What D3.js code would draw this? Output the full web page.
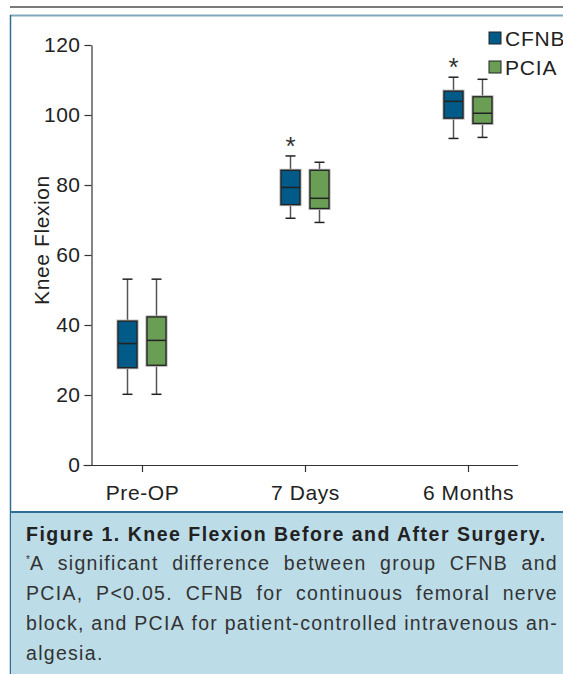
<!DOCTYPE html>
<html><head><meta charset="utf-8">
<script src="https://cdn.jsdelivr.net/npm/d3@7"></script>
<style>
html,body{margin:0;padding:0;background:#fff;overflow:hidden}
svg{display:block}
text{font-family:"Liberation Sans",Arial,Helvetica,sans-serif}
</style></head>
<body>
<script>
const categories = ["Pre-OP", "7 Days", "6 Months"];
const groups = ["CFNB", "PCIA"];
const cfnbMin = [20.2, 70.5, 93.3];
const cfnbQ1  = [27.8, 74.4, 99.1];
const cfnbMed = [34.7, 79.3, 103.9];
const cfnbQ3  = [41.1, 84.2, 106.8];
const cfnbMax = [53.1, 88.3, 110.8];
const pciaMin = [20.2, 69.3, 93.6];
const pciaQ1  = [28.5, 73.3, 97.6];
const pciaMed = [35.6, 76.2, 100.5];
const pciaQ3  = [42.3, 84.2, 105.2];
const pciaMax = [53.1, 86.5, 110.2];
const significant = [false, true, true];
const yTicks = [0, 20, 40, 60, 80, 100, 120];
const yTitle = "Knee Flexion";
const captionTitle = "Figure 1. Knee Flexion Before and After Surgery.";
const captionLines = [
  "A significant difference between group CFNB and",
  "PCIA, P<0.05. CFNB for continuous femoral nerve",
  "block, and PCIA for patient-controlled intravenous an-",
  "algesia."
];
const colors = {CFNB: "#015a88", PCIA: "#6a9e55"};

const W = 563, H = 674;
const svg = d3.select("body").append("svg").attr("width", W).attr("height", H);

// frame
svg.append("line").attr("x1", 10).attr("x2", W).attr("y1", 7).attr("y2", 7).attr("stroke", "#7a7a7a").attr("stroke-width", 2);
svg.append("line").attr("x1", 10).attr("x2", W).attr("y1", 15.5).attr("y2", 15.5).attr("stroke", "#7fa9bd").attr("stroke-width", 2);
svg.append("line").attr("x1", 10.5).attr("x2", 10.5).attr("y1", 15).attr("y2", H).attr("stroke", "#2d6f96").attr("stroke-width", 1.5);

// caption box
svg.append("rect").attr("x", 11).attr("y", 512).attr("width", W).attr("height", H - 512).attr("fill", "#bcdce8");
svg.append("line").attr("x1", 10).attr("x2", W).attr("y1", 512).attr("y2", 512).attr("stroke", "#2d6f96").attr("stroke-width", 2);

// scales
const y = d3.scaleLinear().domain([0, 120]).range([465, 45]);
const x = d3.scalePoint().domain(categories).range([142, 468]);
const xg = d3.scalePoint().domain(groups).range([-14.5, 14.5]);
const boxW = 19, capW = 10;
const axisX = 91.5;
const FS = 21;

// y axis
const yAxis = svg.append("g").attr("transform", `translate(${axisX},0)`)
  .call(d3.axisLeft(y).tickValues(yTicks).tickSize(7).tickPadding(4).tickSizeOuter(0));
yAxis.select(".domain").attr("stroke", "#333").attr("stroke-width", 1.2);
yAxis.selectAll(".tick line").attr("stroke", "#333").attr("stroke-width", 1.2);
yAxis.selectAll(".tick text").attr("font-size", FS).attr("fill", "#222").attr("letter-spacing", 0.5);

// x axis
const xAxis = svg.append("g").attr("transform", "translate(0,465)")
  .call(d3.axisBottom(x).tickSize(7).tickPadding(13).tickSizeOuter(0));
xAxis.select(".domain").attr("d", "M83.5,0.5H518").attr("stroke", "#333").attr("stroke-width", 1.2);
xAxis.selectAll(".tick line").attr("stroke", "#333").attr("stroke-width", 1.2);
xAxis.selectAll(".tick text").attr("font-size", FS).attr("fill", "#222").attr("letter-spacing", 0.6);

// y title
svg.append("text").attr("transform", "translate(48.5,240) rotate(-90)")
  .attr("text-anchor", "middle").attr("font-size", FS).attr("fill", "#222").attr("letter-spacing", 0.6)
  .text(yTitle);

// data rows
const rows = [];
categories.forEach((c, i) => {
  rows.push({cat: c, g: "CFNB", min: cfnbMin[i], q1: cfnbQ1[i], med: cfnbMed[i], q3: cfnbQ3[i], max: cfnbMax[i], sig: significant[i]});
  rows.push({cat: c, g: "PCIA", min: pciaMin[i], q1: pciaQ1[i], med: pciaMed[i], q3: pciaQ3[i], max: pciaMax[i], sig: false});
});

const bx = svg.append("g").selectAll("g").data(rows).join("g")
  .attr("transform", d => `translate(${x(d.cat) + xg(d.g)},0)`);
bx.append("line").attr("x1", 0).attr("x2", 0).attr("y1", d => y(d.max)).attr("y2", d => y(d.min))
  .attr("stroke", "#555").attr("stroke-width", 1.5);
bx.append("line").attr("x1", -capW / 2).attr("x2", capW / 2).attr("y1", d => y(d.max)).attr("y2", d => y(d.max))
  .attr("stroke", "#222").attr("stroke-width", 1.5);
bx.append("line").attr("x1", -capW / 2).attr("x2", capW / 2).attr("y1", d => y(d.min)).attr("y2", d => y(d.min))
  .attr("stroke", "#222").attr("stroke-width", 1.5);
bx.append("rect").attr("x", -boxW / 2).attr("width", boxW)
  .attr("y", d => y(d.q3)).attr("height", d => y(d.q1) - y(d.q3))
  .attr("fill", d => colors[d.g]).attr("stroke", "#aaa").attr("stroke-width", 3);
bx.append("rect").attr("x", -boxW / 2).attr("width", boxW)
  .attr("y", d => y(d.q3)).attr("height", d => y(d.q1) - y(d.q3))
  .attr("fill", d => colors[d.g]).attr("stroke", "#222").attr("stroke-width", 1.3);
bx.append("line").attr("x1", -boxW / 2).attr("x2", boxW / 2).attr("y1", d => y(d.med)).attr("y2", d => y(d.med))
  .attr("stroke", "#222").attr("stroke-width", 1.5);
bx.filter(d => d.sig).append("text").attr("text-anchor", "middle")
  .attr("y", d => y(d.max) - 1).attr("font-size", 26).attr("fill", "#333").text("*");

// legend
const leg = svg.append("g").selectAll("g").data(groups).join("g")
  .attr("transform", (d, i) => `translate(489,${32 + i * 29})`);
leg.append("rect").attr("width", 12).attr("height", 12).attr("fill", d => colors[d]).attr("stroke", "#222").attr("stroke-width", 1);
leg.append("text").attr("x", 16).attr("y", 14).attr("font-size", FS).attr("fill", "#222").attr("letter-spacing", 0.8).text(d => d);

// caption
svg.append("text").attr("x", 26).attr("y", 541).attr("font-size", 19.5).attr("font-weight", "bold")
  .attr("fill", "#222").attr("letter-spacing", 1.5).text(captionTitle);

const left = 26, right = 558, lh = 30, fs = 19.5;
captionLines.forEach((line, i) => {
  const yy = 569.5 + i * lh;
  const xStart = i === 0 ? 30 : left;
  const words = line.split(" ");
  const justify = i < captionLines.length - 1;
  const g = svg.append("g");
  const ts = words.map(w => g.append("text").attr("y", yy).attr("font-size", fs).attr("fill", "#333")
    .attr("letter-spacing", 1.3).text(w));
  const widths = ts.map(t => t.node().getComputedTextLength());
  const total = d3.sum(widths);
  const gap = justify && words.length > 1 ? (right - xStart - total) / (words.length - 1) : 7;
  let cx = xStart;
  ts.forEach((t, k) => { t.attr("x", cx); cx += widths[k] + gap; });
});
svg.append("text").attr("x", 26).attr("y", 563).attr("font-size", 10).attr("fill", "#333").text("*");
</script>
</body></html>
